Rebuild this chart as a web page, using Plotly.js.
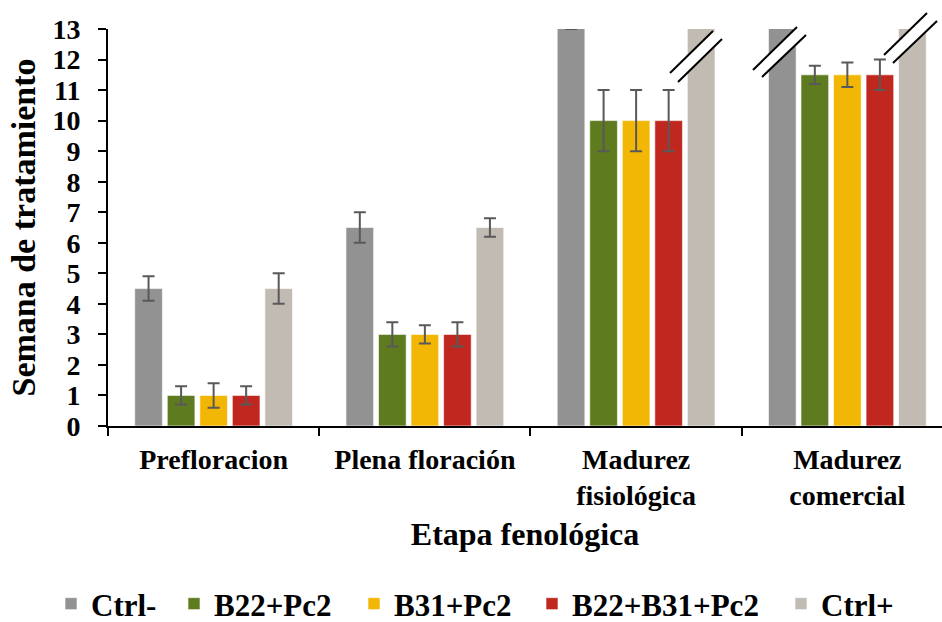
<!DOCTYPE html>
<html><head><meta charset="utf-8">
<script src="https://cdn.plot.ly/plotly-3.0.1.min.js"></script>
<style>html,body{margin:0;padding:0;background:#fff}#chart{width:942px;height:622px}</style>
</head><body><div id="chart"></div>
<script>
const categories = ["Prefloracion", "Plena floración", "Madurez<br>fisiológica", "Madurez<br>comercial"];
const seriesNames = ["Ctrl-", "B22+Pc2", "B31+Pc2", "B22+B31+Pc2", "Ctrl+"];
const ctrlNeg   = [4.5, 6.5, 14, 16];
const ctrlNegErr = [0.4, 0.5, 1, 0];
const b22       = [1, 3, 10, 11.5];
const b22Err    = [0.3, 0.4, 1, 0.3];
const b31       = [1, 3, 10, 11.5];
const b31Err    = [0.4, 0.3, 1, 0.4];
const b22b31    = [1, 3, 10, 11.5];
const b22b31Err = [0.3, 0.4, 1, 0.5];
const ctrlPos   = [4.5, 6.5, 16, 16];
const ctrlPosErr = [0.5, 0.3, 0, 0];
const colors = ["#929292", "#5E7B1F", "#F2B705", "#C0281F", "#C2BBB4"];

const values = [ctrlNeg, b22, b31, b22b31, ctrlPos];
const errs = [ctrlNegErr, b22Err, b31Err, b22b31Err, ctrlPosErr];
const legendIds = ["legend", "legend2", "legend3", "legend4", "legend5"];
const legendLeft = [51, 174, 354, 532, 781];   // px positions of each legend entry

const traces = values.map((v, i) => ({
  type: "bar",
  name: seriesNames[i],
  legend: legendIds[i],
  x: categories,
  y: v,
  marker: {color: colors[i], line: {color: "rgba(255,255,255,0.6)", width: 1}},
  error_y: {type: "data", array: errs[i], visible: true, color: "#595959", thickness: 2, width: 6}
}));

// plot area geometry (pixels) for break marks
const W = 942, H = 622;
const L = 108, R = 942, T = 29, B = 426;
const px = x => (x - L) / (R - L);
const py = y => (B - y) / (B - T);
const breaks = [
  [[670,73],[713,31],[678,82],[722,39]],
  [[753,70],[797,27],[762,77],[806,35]],
  [[884,55],[927,13],[893,63],[937,21]]
];
const shapes = [];
breaks.forEach(b => {
  const [a1, a2, c1, c2] = b;
  shapes.push({type: "path", xref: "paper", yref: "paper",
    path: `M${px(a1[0])},${py(a1[1])} L${px(a2[0])},${py(a2[1])} L${px(c2[0])},${py(c2[1])} L${px(c1[0])},${py(c1[1])} Z`,
    fillcolor: "#ffffff", line: {width: 0}});
  shapes.push({type: "line", xref: "paper", yref: "paper", x0: px(a1[0]), y0: py(a1[1]), x1: px(a2[0]), y1: py(a2[1]), line: {color: "#000", width: 2}});
  shapes.push({type: "line", xref: "paper", yref: "paper", x0: px(c1[0]), y0: py(c1[1]), x1: px(c2[0]), y1: py(c2[1]), line: {color: "#000", width: 2}});
});

const font = {family: "Liberation Serif", color: "#000", weight: "bold"};

const layout = {
  width: W, height: H,
  margin: {l: 108, r: 0, t: 29, b: 196},
  paper_bgcolor: "#fff", plot_bgcolor: "#fff",
  barmode: "group", bargap: 0.23, bargroupgap: 0.15,
  font: Object.assign({size: 26}, font),
  showlegend: true,
  xaxis: {
    type: "category", range: [-0.5, 3.448], tickson: "boundaries",
    ticks: "outside", ticklen: 8, tickwidth: 2, tickcolor: "#000",
    showline: true, linecolor: "#000", linewidth: 2, showgrid: false,
    tickfont: Object.assign({size: 28}, font), ticklabelstandoff: 7,
    title: {text: "Etapa fenológica", font: Object.assign({size: 32}, font), standoff: 13},
    automargin: false, fixedrange: true
  },
  yaxis: {
    range: [0, 13], dtick: 1, tick0: 0,
    ticks: "outside", ticklen: 8, tickwidth: 2, tickcolor: "#000",
    showline: true, linecolor: "#000", linewidth: 2, showgrid: false, zeroline: false,
    tickfont: Object.assign({size: 28}, font), ticklabelstandoff: 12,
    title: {text: "Semana de tratamiento", font: Object.assign({size: 34}, font), standoff: 7},
    automargin: false, fixedrange: true
  },
  shapes: shapes
};
legendIds.forEach((id, i) => {
  layout[id] = {orientation: "h", xref: "container", yref: "container",
    x: legendLeft[i] / W, xanchor: "left", y: 1 - 604 / H, yanchor: "middle",
    font: Object.assign({size: 31}, font), itemwidth: 30, bgcolor: "rgba(0,0,0,0)"};
});

Plotly.newPlot("chart", traces, layout, {staticPlot: true, displayModeBar: false});
</script></body></html>
